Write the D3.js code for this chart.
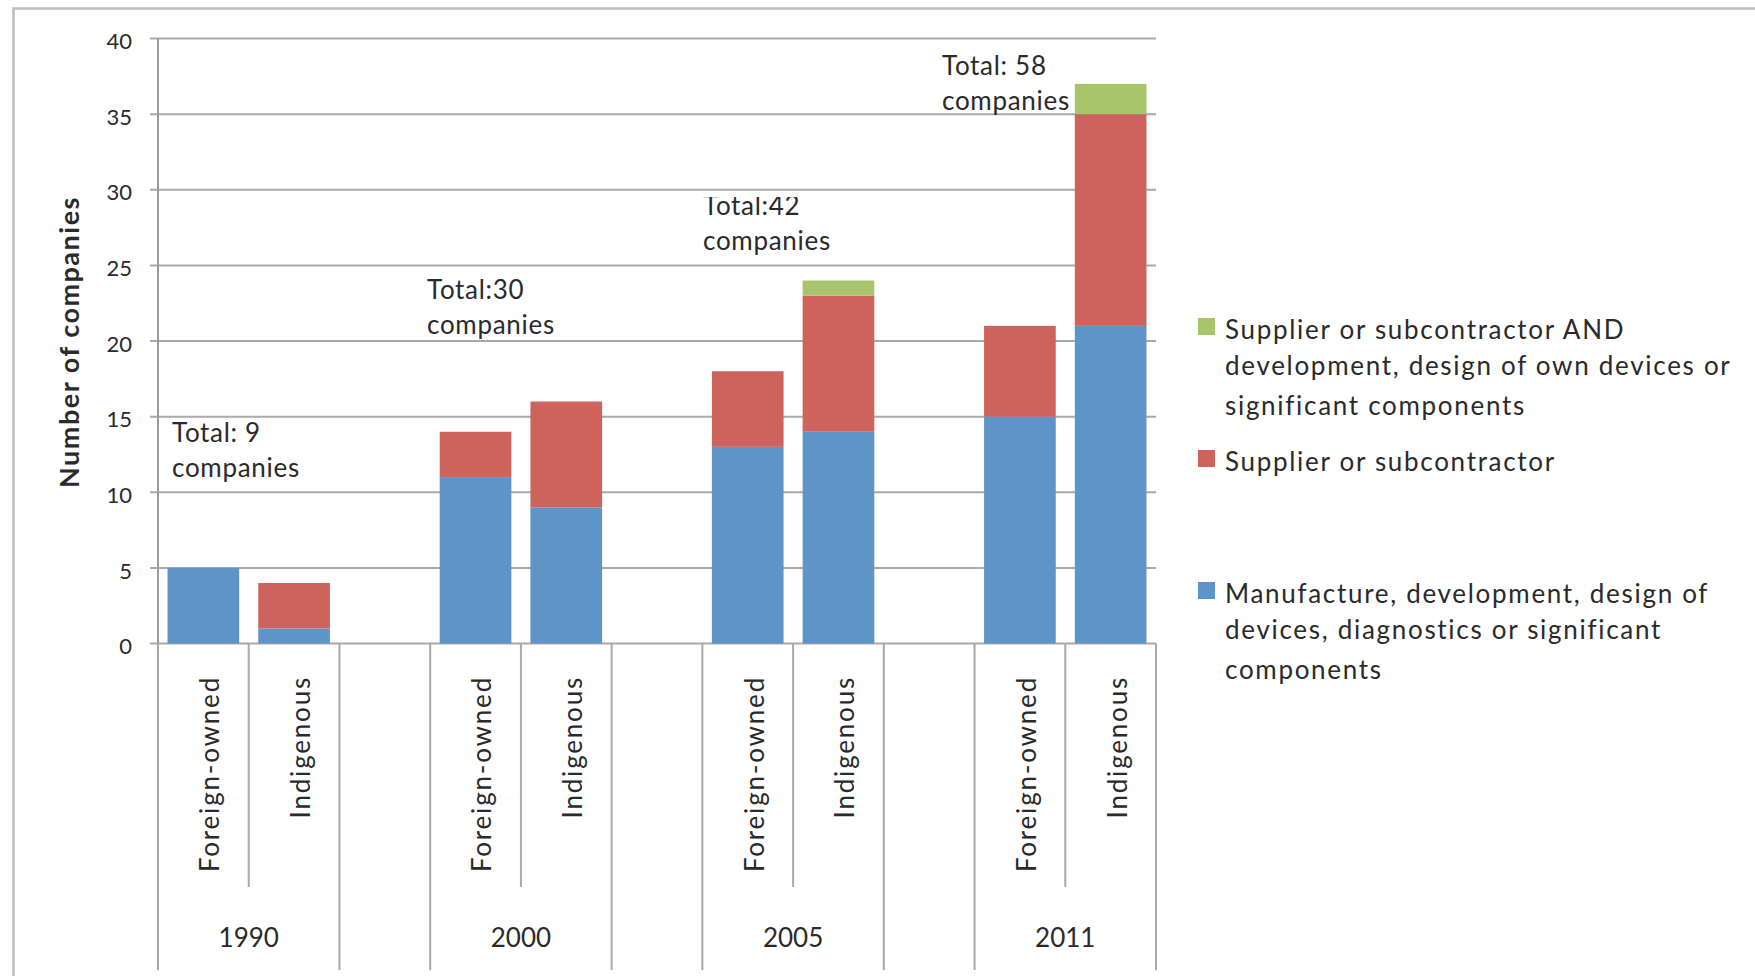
<!DOCTYPE html>
<html>
<head>
<meta charset="utf-8">
<script src="https://cdn.jsdelivr.net/npm/d3@7"></script>
<style>
  html, body { margin: 0; padding: 0; background: #fff; }
  svg { display: block; font-family: Lato, "Open Sans", sans-serif; }
  text { fill: #2a2a2a; }
</style>
</head>
<body>
<svg id="chart" width="1755" height="976"></svg>
<script>
// Medical device companies by year and ownership, stacked by activity type
const years = ["1990", "2000", "2005", "2011"];
const ownership = ["Foreign-owned", "Indigenous"];

// values per bar, in order: 1990 F, 1990 I, 2000 F, 2000 I, 2005 F, 2005 I, 2011 F, 2011 I
const manufacture = [5, 1, 11, 9, 13, 14, 15, 21];
const supplier    = [0, 3, 3, 7, 5, 9, 6, 14];
const supplierDev = [0, 0, 0, 0, 0, 1, 0, 2];

const seriesKeys = ["manufacture", "supplier", "supplierDev"];
const seriesColors = ["#5f94c8", "#cd635c", "#a8c56b"];

const legendItems = [
  ["Supplier or subcontractor AND", "development, design of own devices or", "significant components"],
  ["Supplier or subcontractor"],
  ["Manufacture, development, design of", "devices, diagnostics or significant", "components"]
];

const yTicks = [0, 5, 10, 15, 20, 25, 30, 35, 40];
const yTitle = "Number of companies";
const notePrefix = ["Total: ", "Total:", "Total:", "Total: "];

// slots along the x axis: two bars per year plus an empty spacer between years
const slots = [];
years.forEach((yr, gi) => {
  ownership.forEach(o => slots.push({ key: yr + "|" + o, year: yr, owner: o, gap: false }));
  if (gi < years.length - 1) slots.push({ key: "gap" + gi, gap: true });
});

const rows = [];
let k = 0;
slots.forEach(s => {
  if (!s.gap) {
    rows.push({ key: s.key, year: s.year, owner: s.owner,
      manufacture: manufacture[k], supplier: supplier[k], supplierDev: supplierDev[k] });
    k++;
  }
});

const svg = d3.select("#chart");

const plotLeft = 158, plotRight = 1156, plotTop = 38.5, plotBottom = 643.5;

const x = d3.scaleBand()
  .domain(slots.map(s => s.key))
  .range([plotLeft, plotRight])
  .paddingInner(0.21)
  .paddingOuter(0.105);

const y = d3.scaleLinear().domain([0, 40]).range([plotBottom, plotTop]);

// outer chart frame
svg.append("rect")
  .attr("x", 13.5).attr("y", 8.5)
  .attr("width", 1800).attr("height", 1000)
  .attr("fill", "none").attr("stroke", "#bdbdbd").attr("stroke-width", 2.5);

// horizontal gridlines with outer ticks
svg.append("g")
  .selectAll("line")
  .data(yTicks)
  .join("line")
  .attr("x1", plotLeft - 8).attr("x2", plotRight)
  .attr("y1", d => y(d)).attr("y2", d => y(d))
  .attr("stroke", "#a9a9a9").attr("stroke-width", 2);

// y tick labels
svg.append("g")
  .selectAll("text")
  .data(yTicks)
  .join("text")
  .attr("x", 132)
  .attr("y", d => y(d) + 3)
  .attr("dy", "0.35em")
  .attr("text-anchor", "end")
  .style("font-size", "22px")
  .text(d => d);

// y axis line
svg.append("line")
  .attr("x1", plotLeft).attr("x2", plotLeft)
  .attr("y1", plotTop).attr("y2", plotBottom)
  .attr("stroke", "#9c9c9c").attr("stroke-width", 2);

// y axis title
svg.append("text")
  .attr("transform", `translate(70,342) rotate(-90)`)
  .attr("text-anchor", "middle")
  .attr("dy", "0.35em")
  .style("font-size", "27px")
  .style("font-weight", "bold")
  .style("letter-spacing", "1.5px")
  .text(yTitle);

// stacked bars
const stack = d3.stack().keys(seriesKeys);
const stacked = stack(rows);

svg.append("g")
  .selectAll("g")
  .data(stacked)
  .join("g")
  .attr("fill", (d, i) => seriesColors[i])
  .selectAll("rect")
  .data(d => d)
  .join("rect")
  .attr("x", d => x(d.data.key))
  .attr("width", x.bandwidth())
  .attr("y", d => y(d[1]))
  .attr("height", d => y(d[0]) - y(d[1]));

// category separators below the axis
const step = x.step();
const catLines = d3.range(slots.length + 1).map(i => {
  const left = slots[i - 1], right = slots[i];
  const inner = left && right && !left.gap && !right.gap && left.year === right.year;
  return { x: plotLeft + i * step, inner };
});
svg.append("g")
  .selectAll("line")
  .data(catLines)
  .join("line")
  .attr("x1", d => d.x).attr("x2", d => d.x)
  .attr("y1", plotBottom).attr("y2", d => d.inner ? 887 : 970)
  .attr("stroke", "#a9a9a9").attr("stroke-width", 2);

// ownership labels, rotated
svg.append("g")
  .selectAll("text")
  .data(rows)
  .join("text")
  .attr("transform", d => `translate(${x(d.key) + x.bandwidth() / 2 + 5},676) rotate(-90)`)
  .attr("text-anchor", "end")
  .attr("dy", "0.42em")
  .style("font-size", "26px")
  .style("letter-spacing", "1.8px")
  .text(d => d.owner);

// year labels
svg.append("g")
  .selectAll("text")
  .data(years)
  .join("text")
  .attr("x", yr => (x(yr + "|" + ownership[0]) + x(yr + "|" + ownership[1]) + x.bandwidth()) / 2)
  .attr("y", 938)
  .attr("dy", "0.35em")
  .attr("text-anchor", "middle")
  .style("font-size", "26px")
  .text(yr => yr);

// total annotations for each year
const totals = years.map(yr => d3.sum(rows.filter(r => r.year === yr),
  r => r.manufacture + r.supplier + r.supplierDev));
const notePos = [
  { x: 172, v: 13.9 },
  { x: 427, v: 23.4 },
  { x: 703, v: 28.9 },
  { x: 942, v: 38.2 }
];
svg.append("defs").append("clipPath").attr("id", "noteClip2005")
  .append("rect").attr("x", 690).attr("y", 197).attr("width", 200).attr("height", 80);

const notes = svg.append("g")
  .selectAll("text")
  .data(years)
  .join("text")
  .attr("clip-path", (yr, i) => i === 2 ? "url(#noteClip2005)" : null)
  .style("font-size", "26px")
  .style("letter-spacing", "0.7px");
notes.append("tspan")
  .attr("x", (yr, i) => notePos[i].x)
  .attr("y", (yr, i) => y(notePos[i].v))
  .attr("dy", "0.35em")
  .text((yr, i) => notePrefix[i] + totals[i]);
notes.append("tspan")
  .attr("x", (yr, i) => notePos[i].x)
  .attr("y", (yr, i) => y(notePos[i].v) + 35)
  .attr("dy", "0.35em")
  .text("companies");

// legend: supplier+development on top, manufacture at the bottom
const legendOrder = [2, 1, 0];
const legendLineY = [[330, 366, 406], [462], [594, 630, 670]];
const legendSwatchY = [318, 450, 582];
const legend = svg.append("g");
legendOrder.forEach((si, li) => {
  legend.append("rect")
    .attr("x", 1198).attr("y", legendSwatchY[li])
    .attr("width", 17).attr("height", 17)
    .attr("fill", seriesColors[si]);
  legendItems[li].forEach((line, j) => {
    legend.append("text")
      .attr("x", 1225).attr("y", legendLineY[li][j])
      .attr("dy", "0.35em")
      .style("font-size", "26px")
      .style("letter-spacing", "1.7px")
      .text(line);
  });
});
</script>
</body>
</html>
